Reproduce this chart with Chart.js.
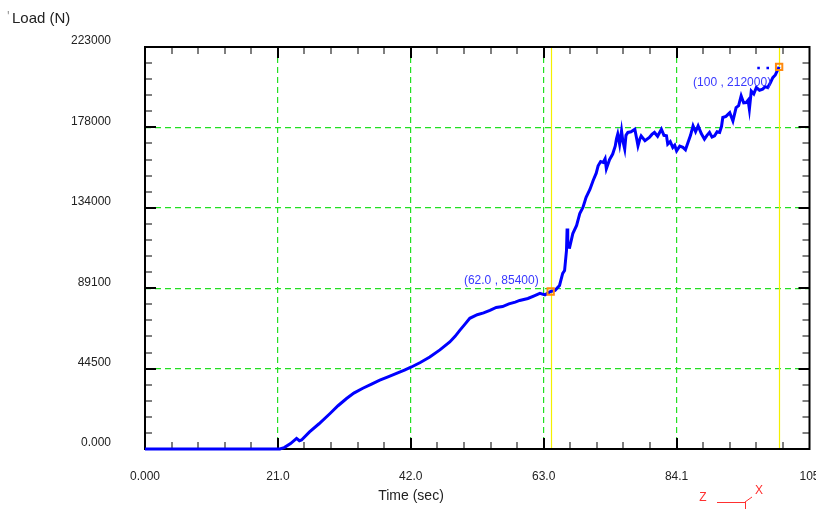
<!DOCTYPE html>
<html>
<head>
<meta charset="utf-8">
<title>Load vs Time</title>
<script src="https://cdn.jsdelivr.net/npm/chart.js@4.4.1/dist/chart.umd.min.js"></script>
<style>
  body { margin: 0; background: #fff; }
  canvas { display: block; }
</style>
</head>
<body>
<canvas id="loadChart" width="816" height="509"></canvas>
<script>
// courbe charge / temps
var timeSec = [0, 21.3, 22.0, 23.0, 23.95, 24.4, 24.74, 26.0, 27.5, 29.24, 30.5, 31.85, 33.0, 34.42, 35.8, 37.1,
  38.4, 39.74, 41.0, 42.1, 43.5, 45.0, 46.6, 48.16, 49.0, 49.74, 50.5, 51.32, 52.5, 53.5, 54.5, 55.5, 56.5,
  57.5, 58.5, 59.2, 60.5, 61.5, 62.4, 63.2, 64.1, 64.8, 65.5, 66.0, 66.3, 66.6, 66.7, 66.8, 67.1, 67.6, 68.2,
  68.7, 69.2, 69.7, 70.3, 70.8, 71.3, 71.6, 72.0, 72.4, 72.7, 72.9, 73.4, 73.9, 74.3, 74.5, 74.7, 75.0, 75.3,
  75.5, 75.8, 76.0, 76.3, 76.8, 77.4, 77.7, 77.9, 78.2, 78.4, 79.0, 79.7, 80.1, 80.5, 81.0, 81.6, 82.0, 82.4,
  82.6, 83.0, 83.4, 83.7, 84.0, 84.5, 85.0, 85.4, 85.8, 86.2, 86.6, 87.0, 87.4, 87.9, 88.4, 88.8, 89.2, 89.6,
  90.0, 90.4, 90.8, 91.1, 91.3, 91.8, 92.4, 92.9, 93.4, 93.8, 94.2, 94.6, 95.0, 95.3, 95.5, 95.8, 96.2, 96.6,
  97.1, 97.6, 98.0, 98.4, 98.8, 99.2, 99.6, 100.2];
var loadN = [0, 0, 800, 3000, 5900, 4600, 5000, 9500, 14000, 19700, 24000, 28000, 31000, 33700, 36000, 38200,
  40000, 41900, 43800, 45500, 48000, 51000, 55000, 59400, 62500, 65800, 69000, 72500, 74500, 75500, 76900, 78500, 79000,
  80500, 81500, 82400, 83500, 85000, 86300, 85500, 87400, 88000, 90700, 97400, 99000, 110100, 122300, 112000, 111900, 119500, 124000,
  130600, 134000, 139600, 144000, 148800, 153000, 157100, 159500, 159000, 161000, 155500, 160500, 163600, 168000, 172000, 174700, 169000, 176500,
  171000, 166400, 174000, 175600, 176000, 177400, 172000, 168200, 172000, 173700, 171000, 172800, 174500, 175600, 173500, 177400, 174000, 173700,
  169100, 170500, 167300, 168500, 165400, 168000, 167300, 166000, 170000, 174000, 179300, 176000, 179300, 175000, 171900, 174000, 175600, 173000,
  173700, 176000, 175600, 179000, 183900, 184500, 186600, 182000, 189400, 190500, 195900, 192000, 192200, 193500, 188500, 198600, 197000, 200500,
  199000, 199600, 201000, 200500, 203000, 206000, 207500, 212000];

// points isoles
var dotTime = [96.95, 98.4];
var dotLoad = [211300, 211300];

// curseurs
var cursorTime = [64.1, 100.2];
var cursorLoad = [87400, 212000];
var cursorText = ["(62.0 , 85400)", "(100 , 212000)"];

var xTickLabels = ["0.000", "21.0", "42.0", "63.0", "84.1", "105"];
var yTickLabels = ["0.000", "44500", "89100", "134000", "178000", "223000"];
var xMax = 105;
var yMax = 223000;

function toPoints(xs, ys) {
  return xs.map(function(x, i) { return {x: x, y: ys[i]}; });
}

var font = "Liberation Sans, Arial, sans-serif";
var gridGreen = "#22e022";

var decorPlugin = {
  id: "decor",
  beforeDatasetsDraw: function(chart) {
    var ctx = chart.ctx, a = chart.chartArea;
    var xs = chart.scales.x, ys = chart.scales.y;
    ctx.save();
    // lignes jaunes des curseurs
    ctx.strokeStyle = "#f4f000";
    ctx.lineWidth = 1.2;
    cursorTime.forEach(function(t) {
      var px = Math.round(xs.getPixelForValue(t)) + 0.5;
      ctx.beginPath(); ctx.moveTo(px, a.top); ctx.lineTo(px, a.bottom); ctx.stroke();
    });
    // graduations vers l'interieur
    var i, major, len, p;
    for (i = 1; i < 25; i++) {
      major = i % 5 == 0;
      len = major ? 11 : 7;
      ctx.strokeStyle = major ? "#000" : "#555";
      ctx.lineWidth = major ? 2 : 1.5;
      p = Math.round(xs.getPixelForValue(xMax * i / 25));
      ctx.beginPath();
      ctx.moveTo(p, a.bottom); ctx.lineTo(p, a.bottom - len);
      ctx.moveTo(p, a.top); ctx.lineTo(p, a.top + len);
      ctx.stroke();
      p = Math.round(ys.getPixelForValue(yMax * i / 25));
      ctx.beginPath();
      ctx.moveTo(a.left, p); ctx.lineTo(a.left + len, p);
      ctx.moveTo(a.right, p); ctx.lineTo(a.right - len, p);
      ctx.stroke();
    }
    // cadre
    ctx.strokeStyle = "#000";
    ctx.lineWidth = 2;
    ctx.strokeRect(a.left, a.top, a.right - a.left, a.bottom - a.top);
    ctx.restore();
  },
  afterDraw: function(chart) {
    var ctx = chart.ctx;
    var xs = chart.scales.x, ys = chart.scales.y;
    ctx.save();
    // titres des axes
    ctx.textBaseline = "middle";
    ctx.textAlign = "left";
    ctx.font = "14px " + font;
    ctx.fillStyle = "#999";
    ctx.fillText("'", 7, 17);
    ctx.font = "15px " + font;
    ctx.fillStyle = "#222";
    ctx.fillText("Load (N)", 12, 19);
    ctx.font = "14px " + font;
    ctx.textAlign = "center";
    ctx.fillText("Time (sec)", 411, 496);
    // etiquettes des curseurs
    ctx.fillStyle = "#3838ff";
    ctx.font = "12px " + font;
    ctx.textAlign = "right";
    var off = [[-12, -11], [-8, 16]];
    cursorTime.forEach(function(t, i) {
      var px = xs.getPixelForValue(t), py = ys.getPixelForValue(cursorLoad[i]);
      ctx.fillText(cursorText[i], px + off[i][0], py + off[i][1]);
    });
    // triedre rouge
    ctx.strokeStyle = "#ff3030";
    ctx.fillStyle = "#ff3030";
    ctx.lineWidth = 1;
    ctx.beginPath();
    ctx.moveTo(717, 502.5); ctx.lineTo(745, 502.5);
    ctx.moveTo(745.5, 502); ctx.lineTo(745.5, 509);
    ctx.moveTo(745, 502); ctx.lineTo(752, 497);
    ctx.stroke();
    ctx.font = "12px " + font;
    ctx.textAlign = "center";
    ctx.fillText("Z", 703, 498);
    ctx.fillText("X", 759, 491);
    ctx.restore();
  }
};

var chart = new Chart(document.getElementById("loadChart"), {
  type: "scatter",
  data: {
    datasets: [
      {
        label: "curseurs",
        data: toPoints(cursorTime, cursorLoad),
        pointStyle: "rect",
        pointRadius: 4.5,
        borderColor: "#ff8a10",
        borderWidth: 2,
        backgroundColor: "rgba(0,0,0,0)",
        showLine: false
      },
      {
        label: "points",
        data: toPoints(dotTime, dotLoad),
        pointStyle: "rect",
        pointRadius: 1.8,
        borderWidth: 0,
        backgroundColor: "#0000ff",
        showLine: false
      },
      {
        label: "Load",
        data: toPoints(timeSec, loadN),
        showLine: true,
        borderColor: "#0000ff",
        borderWidth: 3,
        pointRadius: 0,
        tension: 0,
        clip: 4
      }
    ]
  },
  options: {
    responsive: false,
    animation: false,
    layout: { padding: { top: 47, right: 6, left: 0, bottom: 0 } },
    plugins: {
      legend: { display: false },
      tooltip: { enabled: false },
      title: { display: false }
    },
    scales: {
      x: {
        type: "linear",
        min: 0,
        max: xMax,
        afterBuildTicks: function(s) {
          s.ticks = xTickLabels.map(function(l, i) { return {value: xMax * i / 5}; });
        },
        afterFit: function(s) { s.height = 60; s.paddingLeft = 0; s.paddingRight = 0; },
        ticks: {
          callback: function(v, i) { return xTickLabels[i]; },
          padding: 20,
          maxRotation: 0,
          autoSkip: false,
          color: "#222",
          font: { family: font, size: 12 }
        },
        grid: {
          color: function(c) { return (c.index == 0 || c.index == 5) ? "rgba(0,0,0,0)" : gridGreen; },
          drawTicks: false,
          lineWidth: 1.2
        },
        border: { display: false, dash: [6, 4] }
      },
      y: {
        type: "linear",
        min: 0,
        max: yMax,
        afterBuildTicks: function(s) {
          s.ticks = yTickLabels.map(function(l, i) { return {value: yMax * i / 5}; });
        },
        afterFit: function(s) { s.width = 145; s.paddingTop = 0; s.paddingBottom = 0; },
        ticks: {
          callback: function(v, i) { return yTickLabels[i]; },
          padding: 34,
          labelOffset: -6,
          autoSkip: false,
          color: "#222",
          font: { family: font, size: 12 }
        },
        grid: {
          color: function(c) { return (c.index == 0 || c.index == 5) ? "rgba(0,0,0,0)" : gridGreen; },
          drawTicks: false,
          lineWidth: 1.2
        },
        border: { display: false, dash: [6, 4] }
      }
    }
  },
  plugins: [decorPlugin]
});
</script>
</body>
</html>
